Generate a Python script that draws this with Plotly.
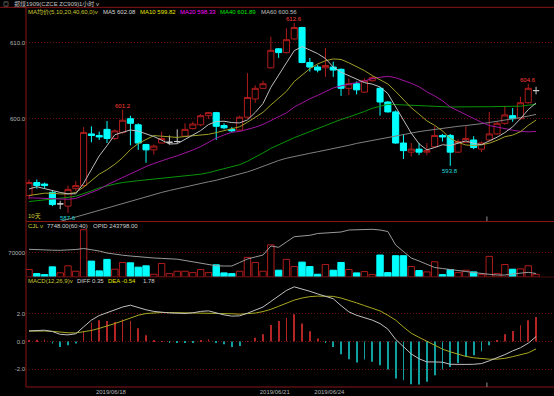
import plotly.graph_objects as go

# ---------------- data (hourly bars) ----------------
bar_index = list(range(66))
opens = [589.9, 591.6, 591.4, 590.3, 588.8, 588.5, 590.8, 591.2, 598.0, 597.8,
         598.6, 597.4, 598.2, 600.0, 599.2, 596.6, 595.9, 596.8, 596.9, 597.0,
         597.7, 598.7, 599.2, 600.4, 600.8, 599.1, 598.6, 598.5, 600.2, 602.6,
         604.0, 606.7, 609.2, 608.7, 610.5, 612.0, 607.4, 606.8, 606.7, 606.8,
         606.5, 604.0, 604.6, 603.5, 605.0, 604.0, 602.2, 600.9, 596.8, 595.6,
         596.0, 595.6, 596.3, 597.8, 597.8, 595.6, 596.9, 597.2, 596.0, 597.2,
         598.0, 599.4, 600.4, 600.0, 602.1, 603.7]
highs = [592.0, 592.0, 591.6, 590.6, 589.2, 591.2, 591.8, 598.9, 599.0, 598.3,
         599.7, 598.6, 601.2, 600.4, 599.4, 596.7, 596.6, 598.3, 597.8, 598.6,
         599.4, 599.6, 600.6, 600.9, 600.9, 599.4, 598.9, 600.4, 606.0, 604.4,
         605.0, 610.8, 609.3, 611.9, 612.6, 612.1, 608.0, 607.1, 609.3, 607.5,
         606.6, 605.3, 604.9, 605.3, 605.6, 604.2, 602.3, 601.1, 597.9, 596.8,
         596.8, 596.8, 599.0, 598.0, 598.0, 597.3, 599.0, 597.7, 597.0, 600.9,
         599.6, 601.7, 601.4, 602.9, 604.6, 604.2]
lows = [589.4, 590.8, 590.8, 588.5, 588.1, 587.6, 590.5, 591.0, 596.9, 597.2,
        596.8, 597.2, 598.0, 596.5, 595.9, 594.2, 595.3, 596.8, 596.6, 596.8,
        597.6, 598.6, 599.0, 600.0, 597.2, 598.6, 598.2, 598.4, 600.0, 602.1,
        603.9, 606.6, 608.0, 608.6, 610.4, 607.3, 606.2, 606.1, 605.5, 605.5,
        603.0, 603.1, 603.2, 603.4, 604.9, 600.4, 600.8, 596.7, 594.7, 595.0,
        595.2, 595.2, 596.2, 597.0, 593.8, 595.5, 596.8, 596.0, 595.6, 597.0,
        597.9, 599.2, 599.6, 599.9, 602.0, 603.2]
closes = [591.6, 591.2, 591.2, 588.7, 588.8, 590.7, 591.2, 598.2, 597.8, 597.6,
          597.4, 598.4, 599.8, 599.4, 596.8, 595.9, 596.4, 597.4, 596.9, 597.0,
          598.6, 599.3, 600.4, 600.8, 599.0, 598.8, 598.4, 600.2, 602.8, 604.0,
          604.6, 609.0, 608.7, 610.4, 612.0, 607.4, 606.8, 606.4, 607.0, 606.4,
          604.0, 604.6, 603.8, 605.0, 605.4, 602.2, 600.9, 596.8, 595.8, 596.0,
          595.6, 595.8, 597.8, 597.6, 595.6, 597.0, 597.4, 596.2, 596.8, 598.0,
          599.4, 600.5, 600.0, 602.1, 604.0, 603.7]

ma5 = [590.75, 591.05, 590.8, 590.5, 590.3, 590.12, 590.12, 591.52, 593.35, 595.11,
       596.45, 597.89, 598.21, 598.52, 598.36, 598.06, 597.66, 597.18, 596.67, 596.71,
       597.25, 597.83, 598.43, 599.22, 599.63, 599.67, 599.49, 599.45, 599.84, 600.83,
       602.0, 604.12, 605.83, 607.35, 608.95, 609.49, 609.04, 608.57, 607.92, 606.8,
       606.12, 605.68, 605.16, 604.75, 604.55, 604.18, 603.3, 601.6, 599.8, 598.1,
       596.7, 595.9, 596.21, 596.57, 596.48, 596.76, 597.08, 596.75, 596.58, 597.08,
       597.56, 598.18, 598.93, 600.0, 601.19, 602.08]
ma10 = [589.9, 590.1, 590.2, 590.2, 590.1, 590.1, 590.3, 591.0, 591.8, 592.7,
        593.29, 594.0, 594.87, 595.94, 596.74, 597.26, 597.78, 597.7, 597.6, 597.54,
        597.66, 597.75, 597.8, 597.95, 598.17, 598.46, 598.66, 598.94, 599.53, 600.23,
        600.84, 601.81, 602.64, 603.59, 604.89, 605.75, 606.58, 607.2, 607.63, 607.87,
        607.8, 607.36, 606.87, 606.33, 605.68, 605.15, 604.57, 603.6, 602.48, 601.44,
        600.6, 599.72, 599.13, 598.39, 597.4, 596.89, 596.54, 596.48, 596.57, 596.78,
        597.16, 597.63, 597.84, 598.29, 599.13, 599.82]
ma20 = [589.6, 589.55, 589.5, 589.45, 589.4, 589.4, 589.5, 589.9, 590.3, 590.7,
        591.3, 591.8, 592.3, 592.8, 593.3, 593.7, 594.1, 594.5, 594.8, 595.12,
        595.47, 595.88, 596.33, 596.94, 597.45, 597.86, 598.22, 598.32, 598.57, 598.88,
        599.25, 599.78, 600.22, 600.77, 601.53, 602.1, 602.62, 603.07, 603.58, 604.05,
        604.32, 604.59, 604.76, 604.96, 605.29, 605.45, 605.58, 605.4, 605.06, 604.66,
        604.2, 603.54, 603.0, 602.36, 601.54, 601.02, 600.56, 600.04, 599.53, 599.11,
        598.88, 598.68, 598.49, 598.34, 598.27, 598.33]
ma40 = [589.1, 589.2, 589.3, 589.4, 589.5, 589.65, 589.8, 590.1, 590.5, 590.9,
        591.2, 591.4, 591.6, 591.75, 591.85, 591.95, 592.05, 592.15, 592.25, 592.35,
        592.45, 592.55, 592.7, 592.9, 593.15, 593.4, 593.65, 593.95, 594.4, 594.9,
        595.5, 596.1, 596.6, 597.1, 597.5, 597.9, 598.3, 598.7, 599.15, 599.59,
        599.9, 600.23, 600.55, 600.95, 601.37, 601.66, 601.9, 601.86, 601.81, 601.77,
        601.73, 601.66, 601.61, 601.57, 601.54, 601.56, 601.59, 601.56, 601.55, 601.58,
        601.6, 601.63, 601.62, 601.65, 601.78, 601.89]
ma60 = [585.3, 585.6, 585.9, 586.2, 586.5, 586.8, 587.1, 587.4, 587.7, 588.0,
        588.3, 588.6, 588.9, 589.2, 589.5, 589.8, 590.05, 590.3, 590.55, 590.8,
        591.05, 591.3, 591.5, 591.7, 591.9, 592.15, 592.4, 592.7, 593.0, 593.35,
        593.75, 594.15, 594.5, 594.8, 595.05, 595.25, 595.45, 595.65, 595.85, 596.05,
        596.3, 596.5, 596.75, 596.95, 597.15, 597.35, 597.55, 597.7, 597.9, 598.1,
        598.3, 598.45, 598.6, 598.75, 598.9, 599.0, 599.1, 599.2, 599.35, 599.5,
        599.65, 599.8, 599.95, 600.15, 600.35, 600.56]

volume = [21500, 9800, 6900, 29300, 12000, 32200, 16600, 136200, 45800, 17600,
          50700, 22400, 41900, 40900, 28300, 32200, 7900, 39000, 9800, 16600,
          16600, 12700, 21500, 12700, 35100, 11800, 9800, 16600, 56500, 41900,
          16600, 92500, 19500, 50700, 30200, 42900, 30200, 7900, 36100, 19500,
          41900, 21500, 11800, 15600, 6900, 63300, 12700, 61300, 61300, 30200,
          18600, 14700, 43800, 6900, 21500, 12700, 19500, 14700, 6900, 59400,
          9800, 36100, 22400, 23400, 32200, 7748]
open_interest = [258320, 258020, 257900, 257780, 257720, 257900, 258200, 258800, 258200, 257300,
                 256100, 255320, 254780, 254300, 253820, 253400, 253100, 252860, 252620, 252380,
                 251600, 250700, 249800, 248900, 248420, 248300, 248300, 250400, 252500, 253700,
                 254900, 260300, 259520, 262700, 265880, 266300, 266720, 267800, 268100, 268400,
                 268700, 269900, 270020, 270260, 270320, 269900, 269000, 260900, 256700, 253100,
                 251300, 249500, 247400, 246800, 246320, 245720, 245000, 244400, 243680, 243320,
                 242900, 242900, 243500, 244100, 244520, 243798]

diff = [0.77, 0.8, 0.82, 0.72, 0.52, 0.48, 0.56, 1.06, 1.55, 1.88,
        2.1, 2.3, 2.5, 2.63, 2.45, 2.3, 2.18, 2.1, 2.07, 2.05,
        2.03, 2.08, 2.18, 2.22, 2.05, 1.93, 1.84, 1.86, 2.05, 2.3,
        2.5, 2.9, 3.3, 3.7, 3.96, 3.82, 3.64, 3.45, 3.3, 3.1,
        2.6, 2.15, 1.9, 1.75, 1.55, 1.3, 0.9, 0.15, -0.35, -0.9,
        -1.25, -1.48, -1.48, -1.5, -1.65, -1.67, -1.66, -1.65, -1.6, -1.4,
        -1.2, -0.95, -0.68, -0.45, -0.12, 0.35]
dea = [0.75, 0.77, 0.76, 0.74, 0.68, 0.63, 0.62, 0.7, 0.8, 0.95,
       1.1, 1.3, 1.5, 1.72, 1.9, 2.03, 2.08, 2.1, 2.1, 2.09,
       2.07, 2.06, 2.07, 2.09, 2.08, 2.05, 2.01, 1.98, 2.0, 2.06,
       2.17, 2.33, 2.55, 2.8, 3.0, 3.15, 3.25, 3.29, 3.3, 3.27,
       3.15, 3.0, 2.8, 2.6, 2.4, 2.22, 1.9, 1.55, 1.05, 0.6,
       0.3, 0.0, -0.3, -0.55, -0.75, -0.92, -1.08, -1.18, -1.25, -1.28,
       -1.28, -1.22, -1.1, -0.98, -0.82, -0.54]
macd = [0.09, 0.12, 0.12, -0.15, -0.39, -0.27, -0.15, 0.7, 1.35, 1.54,
        1.49, 1.42, 1.59, 1.49, 0.96, 0.45, 0.09, 0.02, -0.05, -0.07,
        -0.05, -0.05, 0.1, 0.17, -0.05, -0.2, -0.39, -0.32, 0.03, 0.28,
        0.52, 1.2, 1.49, 1.73, 1.98, 1.31, 0.75, 0.22, -0.1, -0.39,
        -0.92, -1.28, -1.52, -1.3, -1.47, -1.72, -2.03, -2.68, -2.8, -3.09,
        -3.12, -2.92, -2.44, -2.03, -1.84, -1.55, -1.11, -0.99, -0.7, -0.27,
        0.1, 0.53, 0.77, 1.18, 1.54, 1.78]

date_tick_pos = [10.5, 31.5, 38.5]
date_tick_labels = ["2019/06/18", "2019/06/21", "2019/06/24"]
high_marks = [12, 34, 64]
low_marks = [5, 54]
cursor_bar = 58.7

# ---------------- styling ----------------
RED = "#b01c1c"
CYAN = "#00ffff"
GRID = "#6e1010"
FRAME = "#8a1515"
TXT = "#b4b4b4"
FONT = "Liberation Sans, Noto Sans CJK SC, sans-serif"
W, H = 554, 396
ML, MR, MT, MB = 26, 0, 8, 9
PW, PH = W - ML - MR, H - MT - MB


def py2paper(py):
    return (H - MB - py) / PH


def px2paper(px):
    return (px - ML) / PW


fig = go.Figure()

# candles: up (hollow red), down (cyan), doji (gray cross)
groups = {
    "up": [i for i in bar_index if closes[i] > opens[i]],
    "down": [i for i in bar_index if closes[i] < opens[i]],
    "doji": [i for i in bar_index if closes[i] == opens[i]],
}
styles = {"up": (RED, "rgba(0,0,0,1)"), "down": (CYAN, CYAN), "doji": ("#c8c8c8", "#c8c8c8")}
for g, ids in groups.items():
    lc, fc = styles[g]
    fig.add_trace(go.Candlestick(
        x=ids, open=[opens[i] for i in ids], high=[highs[i] for i in ids],
        low=[lows[i] for i in ids], close=[closes[i] for i in ids],
        increasing=dict(line=dict(color=lc, width=1), fillcolor=fc),
        decreasing=dict(line=dict(color=lc, width=1), fillcolor=fc),
        hoverinfo="skip", showlegend=False, xaxis="x", yaxis="y"))

for vals, col in [(ma60, "#808080"), (ma40, "#0a940a"), (ma20, "#a014a0"),
                  (ma10, "#a0a028"), (ma5, "#bdbdbd")]:
    fig.add_trace(go.Scatter(x=bar_index, y=vals, mode="lines",
                             line=dict(color=col, width=1), hoverinfo="skip",
                             showlegend=False, xaxis="x", yaxis="y"))

# volume
vol_fill = [("#000000" if closes[i] >= opens[i] else CYAN) for i in bar_index]
vol_line = [(RED if closes[i] >= opens[i] else CYAN) for i in bar_index]
fig.add_trace(go.Bar(x=bar_index, y=volume, width=0.82,
                     marker=dict(color=vol_fill, line=dict(color=vol_line, width=1)),
                     hoverinfo="skip", showlegend=False, xaxis="x", yaxis="y2"))
fig.add_trace(go.Scatter(x=bar_index, y=open_interest, mode="lines",
                         line=dict(color="#9a9a9a", width=1), hoverinfo="skip",
                         showlegend=False, xaxis="x", yaxis="y3"))

# MACD
macd_col = [("#b52424" if v >= 0 else "#10a0a0") for v in macd]
fig.add_trace(go.Bar(x=bar_index, y=macd, width=0.1,
                     marker=dict(color=macd_col, line=dict(width=0)),
                     hoverinfo="skip", showlegend=False, xaxis="x", yaxis="y4"))
fig.add_trace(go.Scatter(x=bar_index, y=dea, mode="lines",
                         line=dict(color="#a8a820", width=1), hoverinfo="skip",
                         showlegend=False, xaxis="x", yaxis="y4"))
fig.add_trace(go.Scatter(x=bar_index, y=diff, mode="lines",
                         line=dict(color="#c0c0c0", width=1), hoverinfo="skip",
                         showlegend=False, xaxis="x", yaxis="y4"))

# annotations
ann = []


def note(text, px, py, color):
    ann.append(dict(text=text, xref="paper", yref="paper", x=px2paper(px), y=py2paper(py),
                    xanchor="left", yanchor="middle", showarrow=False,
                    font=dict(size=6, color=color, family=FONT)))


note("◎", 1, 3.5, "#bcbcbc")
note("郑煤1909(CZCE ZC909)", 12, 3.5, "#c4c4c4")
note("1小时 v", 77, 3.5, "#c4c4c4")
note("MA均价(5,10,20,40,60,0)v", 25.5, 12.3, "#c8c832")
note("MA5 602.08", 100.7, 12.3, "#d8d8d8")
note("MA10 599.82", 138, 12.3, "#e6e600")
note("MA20 598.33", 178, 12.3, "#ff00ff")
note("MA40 601.89", 218.3, 12.3, "#00e800")
note("MA60 600.56", 259, 12.3, "#c0c0c0")
note("10天", 25.5, 216, "#c8c832")
note("CJL v", 25.5, 226, "#c8c832")
note("7748.00(60:40)", 44.7, 226, "#d0d0d0")
note("OPID 243798.00", 90.7, 226, "#d0d0d0")
note("MACD(12,26,9)v", 25.5, 281, "#c8c832")
note("DIFF 0.35", 75, 281, "#d0d0d0")
note("DEA -0.54", 105.7, 281, "#e6e600")
note("1.78", 140.7, 281, "#d0d0d0")

for i in high_marks:
    ann.append(dict(text=f"{highs[i]:.1f}", x=i, y=highs[i], xref="x", yref="y",
                    xanchor="center", yanchor="bottom", showarrow=False, yshift=-1,
                    font=dict(size=6, color="#ff3c3c", family=FONT)))
for i in low_marks:
    ann.append(dict(text=f"{lows[i]:.1f}", x=i, y=lows[i], xref="x", yref="y",
                    xanchor="center", yanchor="top", showarrow=False, yshift=0,
                    font=dict(size=6, color="#20d8d8", family=FONT)))

shapes = [
    dict(type="line", xref="paper", yref="paper", x0=-ML / PW, x1=1,
         y0=py2paper(7.3), y1=py2paper(7.3), line=dict(color=FRAME, width=1)),
    dict(type="line", xref="paper", yref="paper", x0=0, x1=0,
         y0=0, y1=py2paper(7.3), line=dict(color=FRAME, width=1)),
    dict(type="line", xref="paper", yref="paper", x0=0, x1=1,
         y0=py2paper(221.5), y1=py2paper(221.5), line=dict(color=FRAME, width=1)),
    dict(type="line", xref="paper", yref="paper", x0=0, x1=1,
         y0=py2paper(277), y1=py2paper(277), line=dict(color="#4a0c0c", width=1)),
    dict(type="line", xref="paper", yref="paper", x0=0, x1=1,
         y0=py2paper(387), y1=py2paper(387), line=dict(color=FRAME, width=1)),
    # small cursor marks
    dict(type="line", xref="x", yref="paper", x0=cursor_bar, x1=cursor_bar,
         y0=py2paper(221), y1=py2paper(216.5), line=dict(color="#909090", width=1)),
    dict(type="line", xref="x", yref="paper", x0=cursor_bar, x1=cursor_bar,
         y0=py2paper(387), y1=py2paper(382.5), line=dict(color="#909090", width=1)),
]

main_dom = [py2paper(221), 1]
vol_dom = [py2paper(277), py2paper(221)]
macd_dom = [0, py2paper(277)]

axis_common = dict(showline=False, zeroline=False, ticks="", anchor="x",
                   tickfont=dict(size=6, color=TXT, family=FONT),
                   gridcolor=GRID, griddash="1px,2px", gridwidth=1, fixedrange=True)

fig.update_layout(
    width=W, height=H, margin=dict(l=ML, r=MR, t=MT, b=MB),
    paper_bgcolor="black", plot_bgcolor="black",
    font=dict(family=FONT, size=6, color=TXT),
    showlegend=False, boxgap=0.22, boxgroupgap=0, barmode="overlay",
    xaxis=dict(range=[-0.385, 67.3], showgrid=False, zeroline=False, showline=False,
               ticks="", anchor="y4", tickvals=date_tick_pos, ticktext=date_tick_labels,
               tickfont=dict(size=6, color=TXT, family=FONT),
               rangeslider=dict(visible=False), fixedrange=True),
    yaxis=dict(domain=main_dom, range=[586.54, 614.57], tickvals=[600, 610],
               ticktext=["600.0", "610.0"], showgrid=True, **axis_common),
    yaxis2=dict(domain=vol_dom, range=[0, 161300], tickvals=[70000],
                ticktext=["70000"], showgrid=True, **axis_common),
    yaxis3=dict(overlaying="y2", range=[241700, 275300], showgrid=False,
                showticklabels=False, zeroline=False, showline=False, anchor="x",
                fixedrange=True),
    yaxis4=dict(domain=macd_dom, range=[-3.297, 4.674], tickvals=[-2, 0, 2],
                ticktext=["-2.0", "0.0", "2.0"], showgrid=True, **axis_common),
    annotations=ann, shapes=shapes,
)

fig.write_html(
    "out.html",
    config={"displayModeBar": False},
    post_script="document.body.style.margin='0';document.body.style.padding='0';"
                "document.documentElement.style.background='black';"
                "document.body.style.background='black';",
)
